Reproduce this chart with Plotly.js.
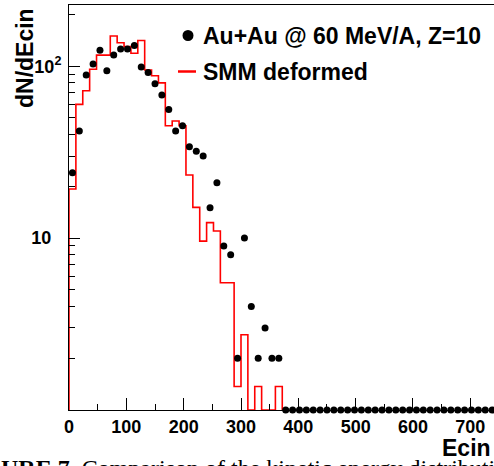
<!DOCTYPE html>
<html>
<head>
<meta charset="utf-8">
<script src="https://cdn.plot.ly/plotly-3.0.1.min.js"></script>
<style>html,body{margin:0;padding:0;background:#fff;overflow:hidden}</style>
</head>
<body>
<div id="chart" style="width:494px;height:466px"></div>
<script>
// Experimental data: bin centres (MeV), bin width 12
var expEcin = [6,18,30,42,54,66,78,90,102,114,126,138,150,162,174,186,198,210,222,234,246,258,270,282,294,306,318,330,342,354,366,
  378,390,402,414,426,438,450,462,474,486,498,510,522,534,546,558,570,582,594,606,618,630,642,654,666,678,690,702,714,726,738];
// counts (empty bins drawn on the axis floor -> 1)
var expCounts = [24,42,89,103,124,94,116,126,126,132,99,92,79,68,56,42,45,34,32,30,15,21,9,8,2,10,4,2,3,2,2,
  1,1,1,1,1,1,1,1,1,1,1,1,1,1,1,1,1,1,1,1,1,1,1,1,1,1,1,1,1,1,1];
// SMM deformed histogram: bin low edges and contents (empty bins -> 1, axis floor)
var smmEdges = [0,12,24,36,48,60,72,84,96,108,120,132,144,156,168,180,192,204,216,228,240,252,264,276,288,300,312,324,336,348,360,372];
var smmValues = [19.3,60,72,96,116,116,150,137,130,119,141,95,88,80,45,48,45,23.3,15.1,9.6,12.3,11.0,5.5,5.5,1.37,2.74,1,1.37,1,1,1.37];
var yTickVals = [10, 100];
var yTickText = ['10\u2007', '10<sup>2</sup>'];
var yMinorVals = [2,3,4,5,6,7,8,9,20,30,40,50,60,70,80,90,200];
var legendLabels = ['Au+Au @ 60 MeV/A, Z=10', 'SMM deformed'];

// build step-line arrays for the histogram
var hx = [smmEdges[0]], hy = [1];
for (var i = 0; i < smmValues.length; i++) { hx.push(smmEdges[i]); hy.push(smmValues[i]); }
hx.push(smmEdges[smmValues.length]); hy.push(1);

var FONT = 'Liberation Sans, Arial, sans-serif';
var L = 69, W = 494, H = 466, T = 5, B = 56;
var PW = W - L, PH = H - T - B;
function px(x){ return (x - L) / PW; }
function py(y){ return (H - B - y) / PH; }

var traces = [
  {x: hx, y: hy, type: 'scatter', mode: 'lines', name: legendLabels[1],
   line: {shape: 'hv', color: '#ff0000', width: 1.6}, showlegend: false, hoverinfo: 'skip'},
  {x: expEcin, y: expCounts, type: 'scatter', mode: 'markers', name: legendLabels[0],
   marker: {color: '#000', size: 7}, cliponaxis: false, showlegend: false}
];

var layout = {
  width: W, height: H,
  margin: {l: L, r: 0, t: T, b: B, pad: 0},
  paper_bgcolor: '#fff', plot_bgcolor: '#fff',
  showlegend: false,
  xaxis: {
    range: [0, 741.3], showline: true, mirror: true, linecolor: '#000', linewidth: 1,
    ticks: 'inside', ticklen: 12, tickcolor: '#000', tick0: 0, dtick: 100,
    minor: {dtick: 50, tick0: 0, ticks: 'inside', ticklen: 6, tickcolor: '#000'},
    showgrid: false, zeroline: false,
    tickfont: {family: FONT, size: 18, weight: 'bold', color: '#000'}
  },
  yaxis: {
    type: 'log', range: [0, 2.356], showline: true, mirror: false, linecolor: '#000', linewidth: 1,
    ticks: 'inside', ticklen: 11, tickcolor: '#000',
    tickmode: 'array', tickvals: yTickVals, ticktext: yTickText,
    minor: {tickmode: 'array', tickvals: yMinorVals, ticks: 'inside', ticklen: 6, tickcolor: '#000'},
    showgrid: false, zeroline: false, ticklabelstandoff: 3,
    tickfont: {family: FONT, size: 18, weight: 'bold', color: '#000'}
  },
  shapes: [
    {type: 'circle', xref: 'paper', yref: 'paper', x0: px(182.5), x1: px(193.5), y0: py(41), y1: py(30),
     fillcolor: '#000', line: {width: 0}},
    {type: 'line', xref: 'paper', yref: 'paper', x0: px(178), x1: px(196), y0: py(71.5), y1: py(71.5),
     line: {color: '#ff0000', width: 2.5}}
  ],
  annotations: [
    {text: legendLabels[0], xref: 'paper', yref: 'paper', x: px(201), y: py(36), xanchor: 'left', yanchor: 'middle',
     showarrow: false, font: {family: FONT, size: 23, weight: 'bold', color: '#000'}},
    {text: legendLabels[1], xref: 'paper', yref: 'paper', x: px(201), y: py(71.7), xanchor: 'left', yanchor: 'middle',
     showarrow: false, font: {family: FONT, size: 23, weight: 'bold', color: '#000'}},
    {text: 'dN/dEcin', xref: 'paper', yref: 'paper', x: px(25), y: py(58), xanchor: 'center', yanchor: 'middle',
     textangle: -90, showarrow: false, font: {family: FONT, size: 23, weight: 'bold', color: '#000'}},
    {text: 'Ecin', xref: 'paper', yref: 'paper', x: px(493), y: py(448), xanchor: 'right', yanchor: 'middle',
     showarrow: false, font: {family: FONT, size: 23, weight: 'bold', color: '#000'}},
    {text: '<b>URE 7.</b> Comparison of the kinetic energy distributi', xref: 'paper', yref: 'paper',
     x: px(-1), y: py(468), xanchor: 'left', yanchor: 'middle',
     showarrow: false, font: {family: 'Liberation Serif, Times New Roman, serif', size: 24, color: '#000'}}
  ]
};

Plotly.newPlot('chart', traces, layout, {displayModeBar: false, staticPlot: true});
</script>
</body>
</html>
